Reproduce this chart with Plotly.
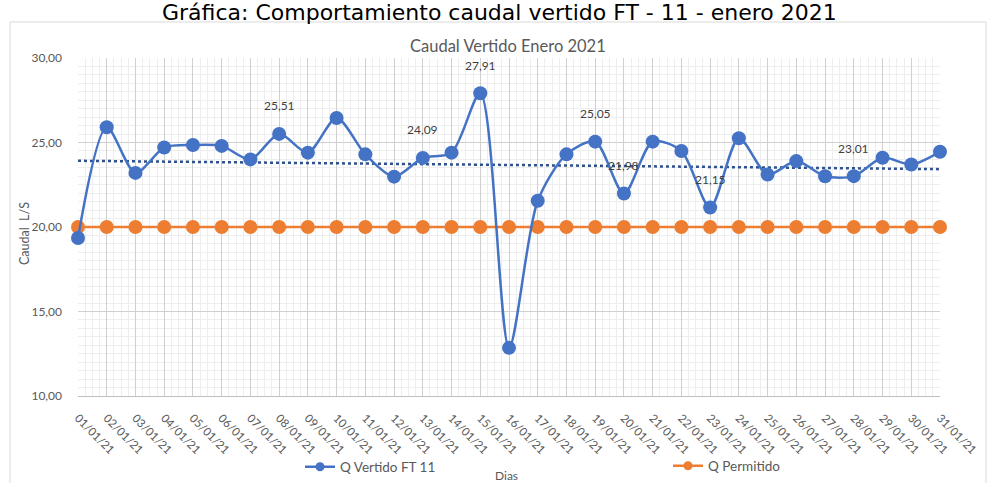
import numpy as np
import plotly.graph_objects as go

dias = ["01/01/21", "02/01/21", "03/01/21", "04/01/21", "05/01/21", "06/01/21",
        "07/01/21", "08/01/21", "09/01/21", "10/01/21", "11/01/21", "12/01/21",
        "13/01/21", "14/01/21", "15/01/21", "16/01/21", "17/01/21", "18/01/21",
        "19/01/21", "20/01/21", "21/01/21", "22/01/21", "23/01/21", "24/01/21",
        "25/01/21", "26/01/21", "27/01/21", "28/01/21", "29/01/21", "30/01/21",
        "31/01/21"]

q_vertido = [19.35, 25.90, 23.20, 24.70, 24.85, 24.80, 24.00, 25.51, 24.40, 26.45,
             24.30, 22.98, 24.09, 24.40, 27.91, 12.85, 21.55, 24.30, 25.05, 21.98,
             25.05, 24.50, 21.15, 25.25, 23.10, 23.90, 23.00, 23.01, 24.10, 23.70,
             24.45]

q_permitido = [20.0, 20.0, 20.0, 20.0, 20.0, 20.0, 20.0, 20.0, 20.0, 20.0, 20.0,
               20.0, 20.0, 20.0, 20.0, 20.0, 20.0, 20.0, 20.0, 20.0, 20.0, 20.0,
               20.0, 20.0, 20.0, 20.0, 20.0, 20.0, 20.0, 20.0, 20.0]

etiquetados = [7, 12, 14, 18, 19, 22, 27]  # indices of points with data labels

y_ticks = [10, 15, 20, 25, 30]

BLUE = "#4472C4"
ORANGE = "#ED7D31"
TREND = "#2F528F"
FONT = "Lato"
TXT = "#595959"

x = list(range(len(dias)))
coef = np.polyfit(x, q_vertido, 1)
trend = list(np.polyval(coef, x))

fig = go.Figure()

fig.add_trace(go.Scatter(
    x=x, y=q_permitido, mode="lines+markers", name="Q Permitido",
    line=dict(color=ORANGE, width=2.5),
    marker=dict(color=ORANGE, size=14),
    cliponaxis=False, showlegend=False))

fig.add_trace(go.Scatter(
    x=x, y=trend, mode="lines", name="Tendencia",
    line=dict(color=TREND, width=2.5, dash="dot"),
    showlegend=False))

fig.add_trace(go.Scatter(
    x=x, y=q_vertido, mode="lines+markers", name="Q Vertido FT 11",
    line=dict(color=BLUE, width=2.5, shape="spline", smoothing=0.8),
    marker=dict(color=BLUE, size=14),
    cliponaxis=False, showlegend=False))

# legend entries (smaller markers like the reference legend)
fig.add_trace(go.Scatter(
    x=[None], y=[None], mode="lines+markers", name="Q Vertido FT 11",
    line=dict(color=BLUE, width=2.5), marker=dict(color=BLUE, size=9),
    legend="legend"))
fig.add_trace(go.Scatter(
    x=[None], y=[None], mode="lines+markers", name="Q Permitido",
    line=dict(color=ORANGE, width=2.5), marker=dict(color=ORANGE, size=9),
    legend="legend2"))

for i in etiquetados:
    fig.add_annotation(
        x=x[i], y=q_vertido[i], text=f"{q_vertido[i]:.2f}".replace(".", ","),
        showarrow=False, yshift=28, font=dict(family=FONT, size=12, color="#404040"))

# plot area in pixels: x 78..940, y 58..396
L, R, T, B = 78, 940, 58, 396
W, H = R - L, B - T
def px_x(p):
    return (p - L) / W
def px_y(p):
    return (B - p) / H

# outer chart frame
fig.add_shape(type="rect", xref="paper", yref="paper",
              x0=px_x(10), x1=px_x(986), y0=px_y(500), y1=px_y(22),
              line=dict(color="#D9D9D9", width=1), fillcolor="rgba(0,0,0,0)", layer="below")

fig.add_annotation(xref="paper", yref="paper", x=px_x(499), y=px_y(-2),
                   xanchor="center", yanchor="top", showarrow=False,
                   text="Gráfica: Comportamiento caudal vertido FT - 11 - enero 2021",
                   font=dict(family="DejaVu Sans", size=22, color="#000000"))

fig.add_annotation(xref="paper", yref="paper", x=px_x(508), y=px_y(46),
                   xanchor="center", yanchor="middle", showarrow=False,
                   text="Caudal Vertido Enero 2021",
                   font=dict(family=FONT, size=16.5, color=TXT))

fig.add_annotation(xref="paper", yref="paper", x=px_x(506), y=px_y(476),
                   xanchor="center", yanchor="middle", showarrow=False,
                   text="Dias", font=dict(family=FONT, size=12, color=TXT))

fig.add_annotation(xref="paper", yref="paper", x=px_x(24), y=px_y(234),
                   xanchor="center", yanchor="middle", showarrow=False, textangle=-90,
                   text="Caudal  L/S", font=dict(family=FONT, size=12.5, color=TXT))

legend_common = dict(orientation="h", xanchor="left", yanchor="middle",
                     font=dict(family=FONT, size=13.5, color=TXT),
                     bgcolor="rgba(0,0,0,0)")

fig.update_layout(
    width=995, height=483,
    margin=dict(l=L, r=995 - R, t=T, b=483 - B, autoexpand=False),
    paper_bgcolor="white", plot_bgcolor="white",
    separators=",.",
    font=dict(family=FONT, size=11, color=TXT),
    legend=dict(x=px_x(300), y=px_y(467), **legend_common),
    legend2=dict(x=px_x(668), y=px_y(466), **legend_common),
    xaxis=dict(
        range=[0, 30], tickmode="array", tickvals=x, ticktext=dias,
        tickangle=45, tickfont=dict(family=FONT, size=11.5, color=TXT),
        showgrid=True, gridcolor="#D0D0D0", gridwidth=1,
        minor=dict(dtick=0.25, tick0=0, showgrid=True, gridcolor="#EEEEEE", gridwidth=1),
        showline=True, linecolor="#BFBFBF", zeroline=False, ticks="",
        ticklabelstandoff=10, automargin=False),
    yaxis=dict(
        range=[10, 30], tickmode="array", tickvals=y_ticks, tickformat=".2f",
        tickfont=dict(family=FONT, size=12, color=TXT),
        showgrid=True, gridcolor="#D0D0D0", gridwidth=1,
        minor=dict(dtick=0.5, tick0=0, showgrid=True, gridcolor="#EEEEEE", gridwidth=1),
        showline=False, zeroline=False, ticks="", ticklabelstandoff=15,
        automargin=False),
)

fig.write_html("out.html", config={"displayModeBar": False},
               post_script="document.body.style.margin='0px';")
